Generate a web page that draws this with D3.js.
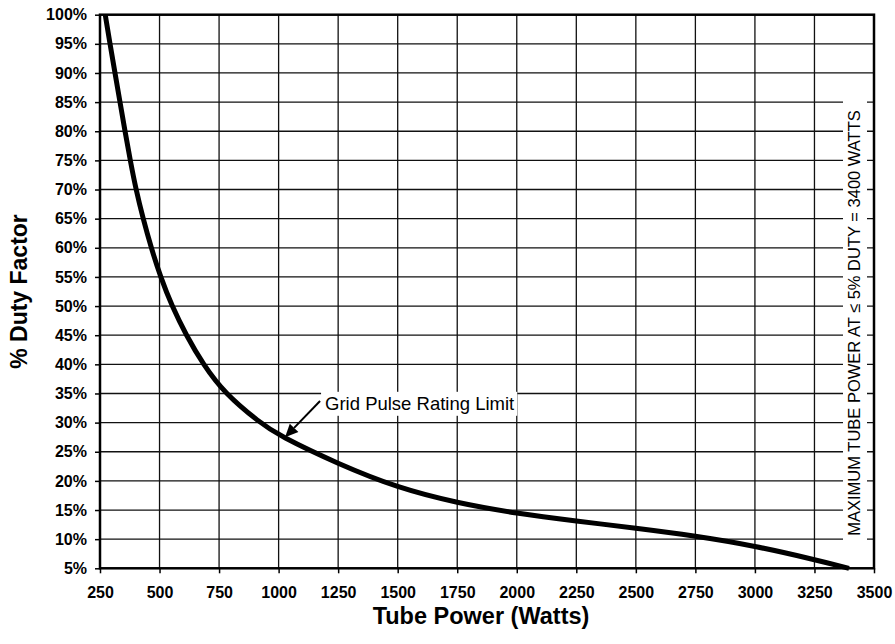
<!DOCTYPE html>
<html>
<head>
<meta charset="utf-8">
<script src="https://cdn.jsdelivr.net/npm/d3@7"></script>
<style>
  body { margin: 0; background: #fff; }
  svg { display: block; font-family: "Liberation Sans", Arial, sans-serif; }
</style>
</head>
<body>
<svg width="895" height="644"></svg>
<script>
// curve: tube power (W) vs duty factor (%)
var power = [272, 292, 313, 334, 355, 377, 401, 431, 465, 504, 552, 612, 683, 774, 921, 1000, 1250, 1500, 1750, 2000, 2250, 2500, 2750, 3000, 3250, 3395];
var duty  = [100, 95, 90, 85, 80, 75, 70, 65, 60, 55, 50, 45, 40, 35, 30, 27.8, 22.9, 18.8, 16.2, 14.4, 13.1, 11.9, 10.55, 8.85, 6.5, 5];

// tick labels
var xTicks = [250, 500, 750, 1000, 1250, 1500, 1750, 2000, 2250, 2500, 2750, 3000, 3250, 3500];
var yTicks = [5, 10, 15, 20, 25, 30, 35, 40, 45, 50, 55, 60, 65, 70, 75, 80, 85, 90, 95, 100];

// annotation: label position and arrow (in data units)
var noteText = "Grid Pulse Rating Limit";
var notePos = [1195, 32.2];
var arrowFrom = [1174, 33.7];
var arrowTo = [1027, 27.5];
var sideNote = "MAXIMUM TUBE POWER AT \u2264 5% DUTY = 3400 WATTS";

var pLeft = 100, pRight = 874, pTop = 14.7, pBottom = 568.3;

var svg = d3.select("svg");
var x = d3.scaleLinear().domain([250, 3500]).range([pLeft, pRight]);
var y = d3.scaleLinear().domain([5, 100]).range([pBottom, pTop]);

//grid lines
var grid = svg.append("g").attr("stroke", "#111").attr("stroke-width", 1.3);
grid.selectAll(".gx").data(xTicks).enter().append("line")
  .attr("x1", function(d){ return x(d); }).attr("x2", function(d){ return x(d); })
  .attr("y1", pTop).attr("y2", pBottom);
grid.selectAll(".gy").data(yTicks).enter().append("line")
  .attr("x1", pLeft).attr("x2", pRight)
  .attr("y1", function(d){ return y(d); }).attr("y2", function(d){ return y(d); });

//axes
var xAxis = svg.append("g").attr("transform", "translate(0," + pBottom + ")")
  .call(d3.axisBottom(x).tickValues(xTicks).tickSize(5).tickPadding(13).tickFormat(d3.format("d")));
var yAxis = svg.append("g").attr("transform", "translate(" + pLeft + ",0)")
  .call(d3.axisLeft(y).tickValues(yTicks).tickSize(5).tickPadding(8).tickFormat(function(d){ return d + "%"; }));
[xAxis, yAxis].forEach(function(a){
  a.attr("font-size", 16).attr("font-family", "'Liberation Sans', Arial, sans-serif");
  a.select(".domain").remove();
  a.selectAll(".tick line").attr("stroke", "#000").attr("stroke-width", 1.5);
  a.selectAll("text").attr("fill", "#000").attr("font-weight", "bold");
});

//side note with white box behind it
var side = svg.append("g");
side.append("rect").attr("fill", "#fff")
  .attr("x", 843).attr("y", 97).attr("width", 24).attr("height", 444);
side.append("text")
  .attr("transform", "translate(860,323) rotate(-90)")
  .attr("text-anchor", "middle")
  .attr("font-size", 16.5)
  .attr("fill", "#000")
  .text(sideNote);

//annotation label with white box
var note = svg.append("g");
var noteBox = note.append("rect").attr("fill", "#fff");
var noteLabel = note.append("text")
  .attr("x", x(notePos[0])).attr("y", y(notePos[1]))
  .attr("font-size", 18.5).attr("fill", "#000")
  .text(noteText);
var bb = noteLabel.node().getBBox();
noteBox.attr("x", bb.x - 4).attr("y", bb.y - 1).attr("width", bb.width + 7).attr("height", bb.height + 3);

//the curve
var line = d3.line()
  .x(function(d, i){ return x(power[i]); })
  .y(function(d, i){ return y(duty[i]); })
  .curve(d3.curveBasis);
svg.append("path")
  .datum(power)
  .attr("d", line)
  .attr("fill", "none")
  .attr("stroke", "#000")
  .attr("stroke-width", 5);

//arrow
var ax0 = x(arrowFrom[0]), ay0 = y(arrowFrom[1]);
var ax1 = x(arrowTo[0]), ay1 = y(arrowTo[1]);
var ang = Math.atan2(ay1 - ay0, ax1 - ax0);
var headLen = 13, headW = 6;
var bx = ax1 - headLen * Math.cos(ang), by = ay1 - headLen * Math.sin(ang);
svg.append("line")
  .attr("x1", ax0).attr("y1", ay0).attr("x2", bx).attr("y2", by)
  .attr("stroke", "#000").attr("stroke-width", 2);
svg.append("polygon")
  .attr("points", [
    [ax1, ay1],
    [bx + headW * Math.sin(ang), by - headW * Math.cos(ang)],
    [bx - headW * Math.sin(ang), by + headW * Math.cos(ang)]
  ].map(function(p){ return p.join(","); }).join(" "))
  .attr("fill", "#000");

//frame
svg.append("rect")
  .attr("x", pLeft).attr("y", pTop)
  .attr("width", pRight - pLeft).attr("height", pBottom - pTop)
  .attr("fill", "none").attr("stroke", "#000").attr("stroke-width", 2.5);

//axis titles
svg.append("text")
  .attr("x", (pLeft + pRight) / 2 - 6).attr("y", 624)
  .attr("text-anchor", "middle")
  .attr("font-size", 23.5).attr("font-weight", "bold").attr("fill", "#000")
  .text("Tube Power (Watts)");
svg.append("text")
  .attr("transform", "translate(27," + (pTop + pBottom) / 2 + ") rotate(-90)")
  .attr("text-anchor", "middle")
  .attr("font-size", 23).attr("font-weight", "bold").attr("fill", "#000")
  .text("% Duty Factor");
</script>
</body>
</html>
